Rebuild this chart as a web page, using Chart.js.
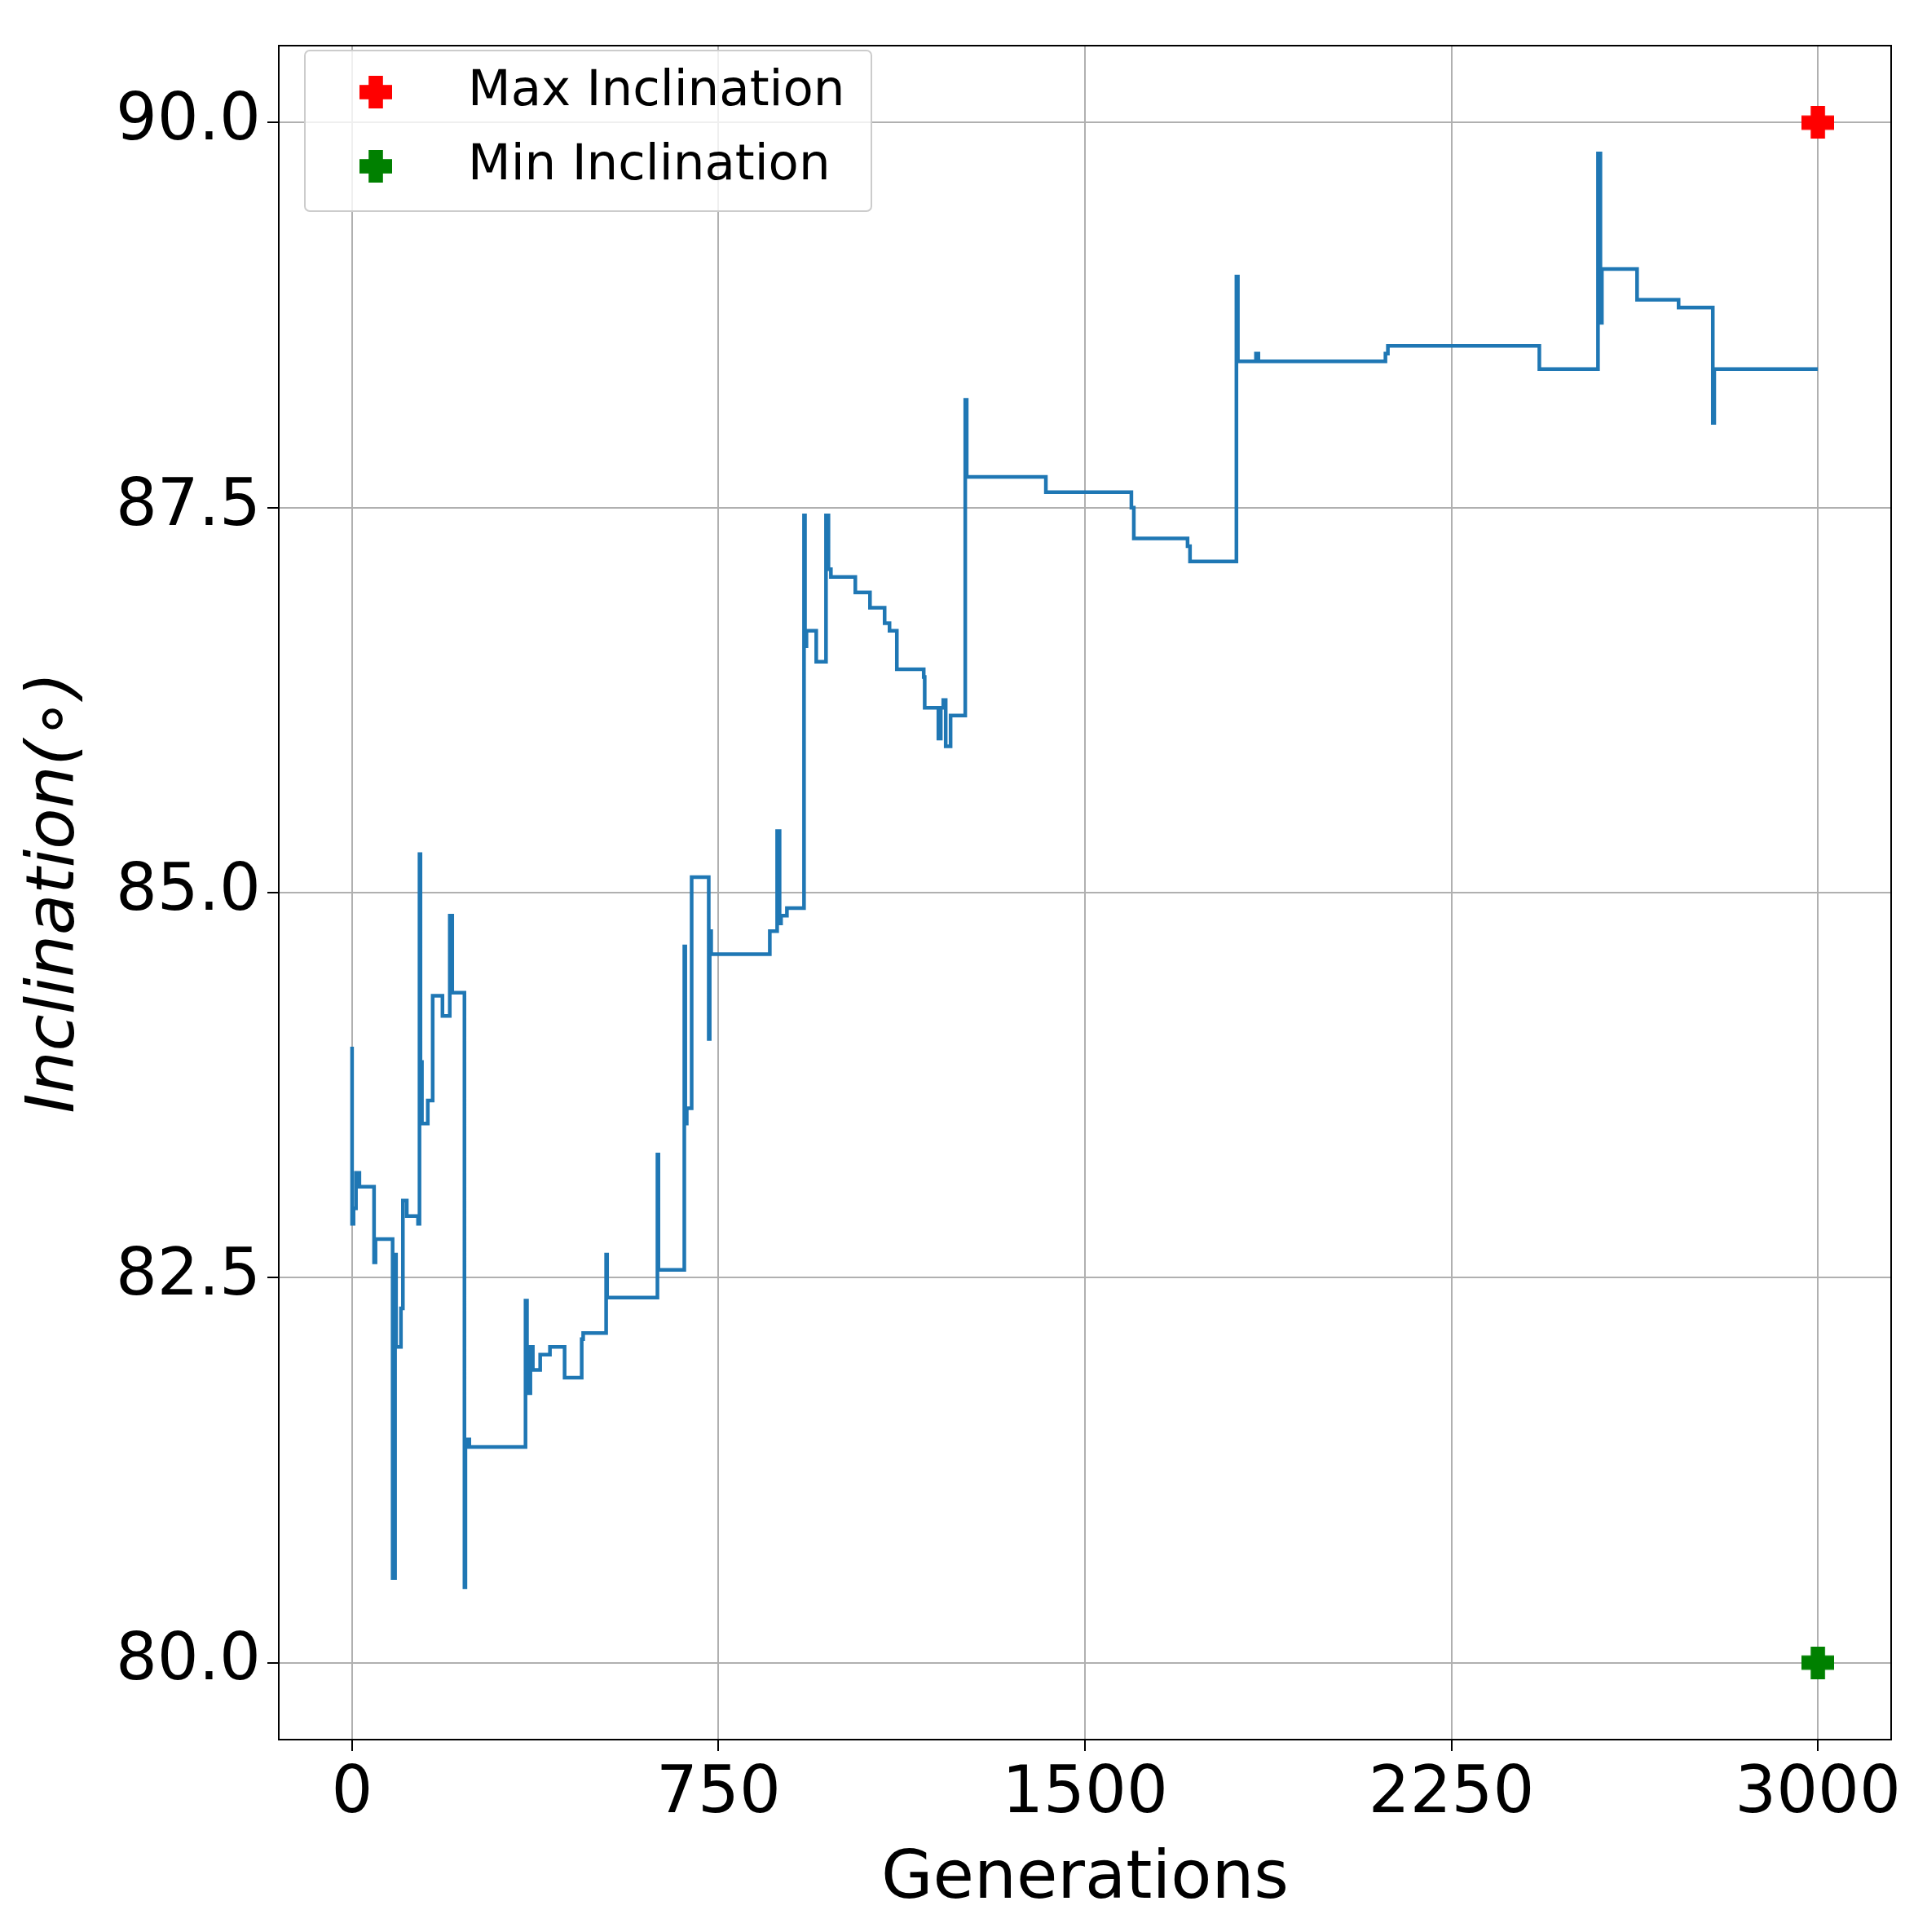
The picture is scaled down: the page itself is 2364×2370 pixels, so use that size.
<!DOCTYPE html>
<html><head><meta charset="utf-8">
<script src="https://cdn.jsdelivr.net/npm/chart.js@4.4.1/dist/chart.umd.min.js"></script>
<style>html,body{margin:0;background:#fff}#c{display:block}</style>
</head><body>
<canvas id="c" width="2364" height="2370"></canvas>
<script>
// generation breakpoints and inclination values (stepped line)
const gens = [0,3,8,15,22,45,48,52,83,88,90,100,104,112,116,135,138,140,143,155,165,170,185,190,200,205,208,210,230,232,235,240,248,355,358,365,370,385,405,435,470,473,475,520,522,525,625,627,630,680,682,685,695,715,730,732,735,745,855,860,870,875,878,890,895,925,927,930,950,953,955,970,975,980,1000,1030,1060,1090,1100,1115,1170,1172,1200,1205,1210,1215,1225,1230,1235,1255,1258,1260,1265,1420,1425,1595,1600,1605,1610,1710,1715,1745,1810,1813,1815,1850,1855,2010,2115,2120,2400,2430,2435,2550,2555,2558,2560,2630,2640,2715,2720,2785,2788,2790,3000];
const vals = [84.0,82.85,82.95,83.18,83.09,83.09,82.6,82.75,82.75,80.55,82.65,82.05,82.3,83.0,82.9,82.9,82.85,85.25,83.9,83.5,83.65,84.33,84.33,84.2,84.2,84.85,84.35,84.35,84.35,80.49,81.4,81.45,81.4,81.4,82.35,81.75,82.05,81.9,82.0,82.05,81.85,82.1,82.14,82.14,82.65,82.37,82.37,83.3,82.55,82.55,84.65,83.5,83.6,85.1,85.1,84.05,84.75,84.6,84.6,84.75,84.75,85.4,84.8,84.85,84.9,84.9,87.45,86.6,86.7,86.5,86.5,86.5,87.45,87.1,87.05,87.05,86.95,86.85,86.75,86.7,86.45,86.4,86.2,86.0,86.2,86.25,85.95,86.15,86.15,86.15,88.2,87.7,87.7,87.7,87.6,87.6,87.5,87.3,87.3,87.3,87.25,87.15,87.15,89.0,88.45,88.45,88.5,88.45,88.45,88.5,88.55,88.55,88.4,88.4,89.8,88.7,89.05,89.05,88.85,88.85,88.8,88.8,88.05,88.4,88.4];
const maxInc = 90, minInc = 80, lastGen = 3000;
const xTicks = [0,750,1500,2250,3000];
const yTicks = [80,82.5,85,87.5,90];

function plusMarker(color, s) {
  const cv = document.createElement('canvas');
  cv.width = s; cv.height = s;
  const g = cv.getContext('2d');
  g.fillStyle = color;
  const a = s * 0.28, b = s - 2 * a;
  g.fillRect(a, 0, b, s);
  g.fillRect(0, a, s, b);
  return cv;
}
const redP = plusMarker('#ff0000', 40), greenP = plusMarker('#008000', 40);

const font = 'DejaVu Sans';

// legend box inside the plot, top-left
const legendBox = {
  id: 'legendBox',
  afterDraw(chart) {
    const c = chart.ctx;
    const x = 374, y = 62, w = 695, h = 197;
    c.save();
    c.fillStyle = 'rgba(255,255,255,0.8)';
    c.strokeStyle = '#cccccc'; c.lineWidth = 2;
    c.beginPath(); c.roundRect(x, y, w, h, 6); c.fill(); c.stroke();
    c.font = '61px ' + font; c.fillStyle = '#000'; c.textBaseline = 'middle';
    c.drawImage(redP, 441, 93); c.fillText('Max Inclination', 574, 113);
    c.drawImage(greenP, 441, 184); c.fillText('Min Inclination', 574, 204);
    c.restore();
  }
};

new Chart(document.getElementById('c'), {
  type: 'line',
  data: {
    datasets: [
      { data: gens.map((g, i) => ({x: g, y: vals[i]})), borderColor: '#1f77b4', borderWidth: 4.5,
        stepped: 'after', pointRadius: 0, fill: false },
      { data: [{x: lastGen, y: maxInc}], pointStyle: redP, showLine: false },
      { data: [{x: lastGen, y: minInc}], pointStyle: greenP, showLine: false }
    ]
  },
  options: {
    responsive: false, animation: false,
    layout: { padding: { top: 8, right: 44, left: 0, bottom: 0 } },
    plugins: { legend: { display: false }, tooltip: { enabled: false } },
    scales: {
      x: {
        type: 'linear', min: -150, max: 3150,
        afterBuildTicks: s => { s.ticks = xTicks.map(v => ({value: v})); },
        afterFit: s => { s.height = 236; },
        grid: { color: '#b0b0b0', lineWidth: 2, tickLength: 14, tickColor: '#000', tickWidth: 2 },
        border: { color: '#000', width: 2 },
        ticks: { color: '#000', font: { family: font, size: 80 }, padding: 6, callback: v => String(v) },
        title: { display: true, text: 'Generations', color: '#000', font: { family: font, size: 82 }, padding: { top: 0, bottom: 14 } }
      },
      y: {
        min: 79.5, max: 90.5,
        afterBuildTicks: s => { s.ticks = yTicks.map(v => ({value: v})); },
        afterFit: s => { s.width = 342; },
        grid: { color: '#b0b0b0', lineWidth: 2, tickLength: 14, tickColor: '#000', tickWidth: 2 },
        border: { color: '#000', width: 2 },
        ticks: { color: '#000', font: { family: font, size: 80 }, padding: 8, callback: v => v.toFixed(1) },
        title: { display: true, text: 'Inclination(∘)', color: '#000', font: { family: font, size: 82, style: 'italic' }, padding: { top: 20, bottom: 0 } }
      }
    }
  },
  plugins: [legendBox, {
    id: 'frame',
    afterDraw(chart) {
      const a = chart.chartArea, c = chart.ctx;
      c.save(); c.strokeStyle = '#000'; c.lineWidth = 2;
      c.strokeRect(a.left, a.top, a.right - a.left, a.bottom - a.top); c.restore();
    }
  }]
});
</script>
</body></html>
